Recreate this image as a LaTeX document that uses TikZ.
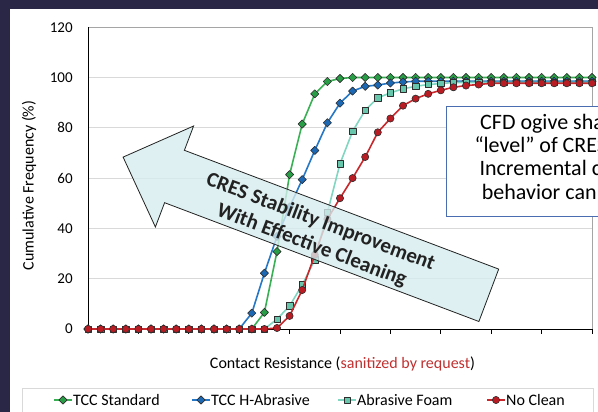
\documentclass[tikz,border=0pt]{standalone}
\usepackage{fontspec}
\setmainfont{Carlito}
\usetikzlibrary{plotmarks}

\definecolor{slidebg}{RGB}{42,39,70}
\definecolor{gridgray}{RGB}{217,217,217}
\definecolor{framegray}{RGB}{165,165,165}
\definecolor{stdgreen}{RGB}{58,176,84}
\definecolor{stdfill}{RGB}{40,158,70}
\definecolor{habblue}{RGB}{38,120,198}
\definecolor{habfill}{RGB}{28,104,180}
\definecolor{foamteal}{RGB}{128,214,192}
\definecolor{foamfill}{RGB}{104,198,172}
\definecolor{nocred}{RGB}{200,40,44}
\definecolor{nocfill}{RGB}{186,28,36}
\definecolor{markedge}{RGB}{45,45,45}
\definecolor{arrowfill}{RGB}{214,236,238}
\definecolor{sanired}{RGB}{192,48,48}
\definecolor{boxblue}{RGB}{74,108,176}
\definecolor{inkgray}{RGB}{34,34,34}

% cumulative frequency per resistance bin (41 bins)
\newcommand{\stdvals}{{0,0,0,0,0,0,0,0,0,0,0,0,0,0,6.6,30.8,61.4,81.5,93.5,98.4,99.6,100,100,100,100,100,100,100,100,100,100,100,100,100,100,100,100,100,100,100,100}}
\newcommand{\habvals}{{0,0,0,0,0,0,0,0,0,0,0,0,0,6.3,22.2,36.8,48.5,59.4,71,82,89.8,94.6,96.5,97,97.8,98.2,98.5,98.5,98.5,98.5,98.5,98.5,98.5,98.5,98.5,98.5,98.5,98.5,98.5,98.5,98.5}}
\newcommand{\foamvals}{{0,0,0,0,0,0,0,0,0,0,0,0,0,0,0,3.9,9.2,17.5,27.5,46.3,65.7,78.6,87,91.9,93.9,95.5,96.5,97.2,97.6,98,98,98,98,98,98,98,98,98,98,98,98}}
\newcommand{\nocvals}{{0,0,0,0,0,0,0,0,0,0,0,0,0,0,0,0.4,5.2,15.5,29.5,43.7,52,60,68.4,78.2,83.7,88.8,91.6,93.5,94.9,96.1,96.8,97.2,97.7,97.7,97.7,97.7,97.7,97.7,97.7,97.7,97.7}}

\begin{document}
\begin{tikzpicture}[
		x=1pt, y=-1pt,
		gridline/.style={draw=gridgray, line width=0.8pt},
		axisline/.style={draw=black, line width=0.9pt},
		ticklabel/.style={anchor=east, inner sep=0pt, font=\fontsize{15}{18}\selectfont},
		axistitle/.style={inner sep=0pt, font=\fontsize{16}{19}\selectfont},
		legtext/.style={anchor=west, inner sep=0pt, font=\fontsize{16}{19}\selectfont},
		series/.style={line width=1.6pt, line join=round},
		stdline/.style={series, draw=stdgreen, mark=square*, mark size=2.9pt, mark options={rotate=45, fill=stdfill, draw=markedge, line width=0.6pt}},
		habline/.style={series, draw=habblue, mark=square*, mark size=2.9pt, mark options={rotate=45, fill=habfill, draw=markedge, line width=0.6pt}},
		foamline/.style={series, draw=foamteal, mark=square*, mark size=3.2pt, mark options={fill=foamfill, draw=markedge, line width=0.6pt}},
		nocline/.style={series, draw=nocred, mark=*, mark size=3.6pt, mark options={fill=nocfill, draw=markedge, line width=0.6pt}},
		bigarrow/.style={draw=inkgray, fill=arrowfill, fill opacity=0.8, line width=0.8pt},
		arrowtext/.style={rotate=-20.7, align=center, text=inkgray, font=\fontsize{21}{25}\selectfont\bfseries},
		notebox/.style={draw=boxblue, fill=white, line width=0.9pt},
		notetext/.style={anchor=base west, inner sep=0pt, font=\fontsize{22}{23}\selectfont},
		legframe/.style={draw=gridgray, line width=0.8pt}
		]
		
		\useasboundingbox (0,0) rectangle (598,412);
		\clip (0,0) rectangle (598,412);
		
		% slide background showing at top and left
		\fill[slidebg] (0,0) rectangle (598,9);
		\fill[slidebg] (0,0) rectangle (10,412);
		
		% plot area: one unit per bin across, one per percent up
		\begin{scope}[shift={(88,329)}, x=12.6pt, y=2.515pt]
			\foreach \v in {20,40,...,100}
				\draw[gridline] (0,\v) -- (40,\v);
			\draw[framegray, line width=0.8pt] (0,120) -- (40,120) -- (40,0);
			\draw[axisline] (0,120) -- (0,0) -- (40,0);
			\foreach \k in {4,8,...,40}
				\draw[axisline] (\k,0) -- (\k,-1.8);
			\foreach \v in {0,20,...,120}
				\node[ticklabel] (ylab\v) at (-1.2,\v) {\v};
			
			% the four cleaning cases
			\draw[stdline] plot[samples at={0,...,40}] (\x,{\stdvals[\x]});
			\draw[habline] plot[samples at={0,...,40}] (\x,{\habvals[\x]});
			\draw[foamline] plot[samples at={0,...,40}] (\x,{\foamvals[\x]});
			\draw[nocline] plot[samples at={0,...,40}] (\x,{\nocvals[\x]});
		\end{scope}
		
		% block arrow across the curves
		\draw[bigarrow] (123.1,157.1) -- (193.6,126) -- (184.4,150.3) -- (498.7,269.1)
			-- (478.9,321.5) -- (164.6,202.7) -- (155.4,227) -- cycle;
		\node[arrowtext] (gain) at (316,234) {CRES Stability Improvement\\With Effective Cleaning};
		
		% note box, running off the right edge
		\draw[notebox] (446.7,106) rectangle (640,216.7);
		\node[notetext] (note1) at (480,130) {CFD ogive sha};
		\node[notetext] (note2) at (474.3,152.5) {“level” of CRES};
		\node[notetext] (note3) at (479.3,175.5) {Incremental c};
		\node[notetext] (note4) at (481.7,199) {behavior can};
		
		% axis titles
		\node[axistitle, rotate=90] (ytitle) at (29,185.5) {Cumulative Frequency (\%)};
		\node[axistitle, anchor=base] (xtitle) at (342.5,368.5) {Contact Resistance (\textcolor{sanired}{sanitized by request})};
		
		% legend
		\draw[legframe] (22,388) rectangle (593,430);
		\node[legtext] (legstd) at (73,400) {TCC Standard};
		\node[legtext] (leghab) at (211,400) {TCC H-Abrasive};
		\node[legtext] (legfoam) at (357,400) {Abrasive Foam};
		\node[legtext] (legnoc) at (506,400) {No Clean};
		\draw[stdline, mark indices={2}] plot coordinates {([xshift=-19pt]legstd.west) ([xshift=-10pt]legstd.west) ([xshift=-1pt]legstd.west)};
		\draw[habline, mark indices={2}] plot coordinates {([xshift=-19pt]leghab.west) ([xshift=-10pt]leghab.west) ([xshift=-1pt]leghab.west)};
		\draw[foamline, mark indices={2}] plot coordinates {([xshift=-19pt]legfoam.west) ([xshift=-10pt]legfoam.west) ([xshift=-1pt]legfoam.west)};
		\draw[nocline, mark indices={2}] plot coordinates {([xshift=-19pt]legnoc.west) ([xshift=-10pt]legnoc.west) ([xshift=-1pt]legnoc.west)};
		
	\end{tikzpicture}
\end{document}
